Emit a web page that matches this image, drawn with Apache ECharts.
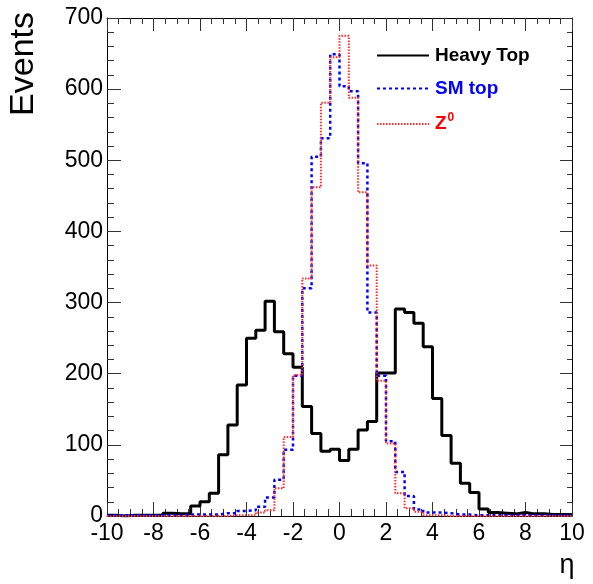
<!DOCTYPE html>
<html>
<head>
<meta charset="utf-8">
<script src="https://cdn.jsdelivr.net/npm/echarts@6/dist/echarts.min.js"></script>
<style>
  html, body { margin: 0; padding: 0; background: #fff; }
  #main { width: 593px; height: 584px; }
</style>
</head>
<body>
<div id="main"></div>
<script>
// lower edges of the 50 eta bins (width 0.4), last edge closes the histogram
const binLow = [-10, -9.6, -9.2, -8.8, -8.4, -8, -7.6, -7.2, -6.8, -6.4,
  -6, -5.6, -5.2, -4.8, -4.4, -4, -3.6, -3.2, -2.8, -2.4,
  -2, -1.6, -1.2, -0.8, -0.4, 0, 0.4, 0.8, 1.2, 1.6,
  2, 2.4, 2.8, 3.2, 3.6, 4, 4.4, 4.8, 5.2, 5.6,
  6, 6.4, 6.8, 7.2, 7.6, 8, 8.4, 8.8, 9.2, 9.6];
const binHigh = 10;

const heavyTop = [1, 0, 1, 1, 1, 1, 4, 3, 3, 14,
  20, 32, 86, 128, 184, 250, 261, 302, 259, 228,
  209, 154, 116, 91, 94, 78, 94, 121, 133, 201,
  201, 291, 286, 271, 238, 165, 113, 74, 46, 33,
  10, 5, 4, 3, 5, 3, 3, 2, 2, 2];

const smTop = [1, 1, 1, 1, 1, 1, 1, 1, 2, 2,
  2, 2, 4, 4, 7, 8, 13, 26, 51, 93,
  197, 320, 505, 531, 649, 604, 597, 496, 286, 197,
  105, 62, 28, 9, 5, 5, 4, 2, 2, 1,
  1, 1, 1, 1, 1, 1, 1, 1, 1, 1];

const zZero = [0, 0, 0, 0, 0, 0, 0, 0, 0, 0,
  0, 0, 0, 1, 1, 1, 5, 8, 39, 111,
  198, 334, 462, 581, 645, 675, 588, 455, 352, 190,
  102, 32, 11, 6, 1, 1, 0, 0, 0, 0,
  0, 0, 0, 0, 0, 0, 0, 0, 0, 0];

const xTicks = { min: -10, max: 10, interval: 2 };
const yTicks = { min: 0, max: 700, interval: 100 };

const FONT = '"Liberation Sans", Arial, Helvetica, sans-serif';

// histogram as step line: value i spans [binLow[i], next edge]
function toSteps(vals) {
  const pts = binLow.map((x, i) => [x, vals[i]]);
  pts.push([binHigh, vals[vals.length - 1]]);
  return pts;
}

function histSeries(name, vals, color, width, type, z) {
  return {
    name: name,
    type: 'line',
    step: 'end',
    symbol: 'none',
    z: z,
    xAxisIndex: 0,
    yAxisIndex: 0,
    data: toSteps(vals),
    lineStyle: { color: color, width: width, type: type, cap: 'butt' },
    itemStyle: { color: color }
  };
}

function axisCommon(showLabel) {
  return {
    axisLine: { show: true, onZero: false, lineStyle: { color: '#000', width: 1 } },
    axisTick: { show: true, inside: true, length: 14, lineStyle: { color: '#333', width: 1 } },
    minorTick: { show: true, length: 7, lineStyle: { color: '#333', width: 1 } },
    splitLine: { show: false },
    minorSplitLine: { show: false },
    axisLabel: { show: showLabel, color: '#000', fontSize: 23, fontFamily: FONT }
  };
}

const chart = echarts.init(document.getElementById('main'));

const xBottom = Object.assign({ type: 'value', position: 'bottom' }, xTicks, axisCommon(true));
xBottom.minorTick.splitNumber = 4;
xBottom.axisLabel.margin = 6;
const xTop = Object.assign({ type: 'value', position: 'top' }, xTicks, axisCommon(false));
xTop.minorTick.splitNumber = 4;
xTop.axisTick.length = 13;
xTop.minorTick.length = 6;

const yLeft = Object.assign({ type: 'value', position: 'left' }, yTicks, axisCommon(true));
yLeft.minorTick.splitNumber = 5;
yLeft.axisLabel.margin = 4;
const yRight = Object.assign({ type: 'value', position: 'right' }, yTicks, axisCommon(false));
yRight.minorTick.splitNumber = 5;
yRight.axisTick.length = 12;
yRight.minorTick.length = 5;

const option = {
  animation: false,
  backgroundColor: '#fff',
  textStyle: { fontFamily: FONT },
  grid: { left: 107, right: 21, top: 18, bottom: 68, containLabel: false },
  xAxis: [xBottom, xTop],
  yAxis: [yLeft, yRight],
  legend: {
    orient: 'vertical',
    left: 371,
    top: 41,
    itemWidth: 52,
    itemHeight: 14,
    itemGap: 14,
    itemStyle: { opacity: 0 },
    textStyle: {
      fontSize: 19,
      fontWeight: 'bold',
      fontFamily: FONT,
      padding: [0, 0, 0, 1],
      rich: {
        z: { fontSize: 19, fontWeight: 'bold', color: '#ff0000', fontFamily: FONT },
        s: { fontSize: 12, fontWeight: 'bold', color: '#ff0000', fontFamily: FONT, padding: [0, 0, 12, 1] }
      }
    },
    formatter: function (name) {
      return name === 'Z0' ? '{z|Z}{s|0}' : name;
    },
    data: [
      { name: 'Heavy Top', textStyle: { color: '#000' } },
      { name: 'SM top', textStyle: { color: '#0000ff' } },
      { name: 'Z0', textStyle: { color: '#ff0000' } }
    ]
  },
  graphic: [
    {
      type: 'text',
      x: 7,
      y: 12,
      rotation: Math.PI / 2,
      style: { text: 'Events', font: '34px ' + FONT, fill: '#000', align: 'right', verticalAlign: 'top' }
    },
    {
      type: 'text',
      x: 567,
      y: 566,
      style: { text: 'η', font: '27px ' + FONT, fill: '#000', align: 'center', verticalAlign: 'middle' }
    }
  ],
  series: [
    histSeries('Heavy Top', heavyTop, '#000000', 3, 'solid', 3),
    histSeries('SM top', smTop, '#0000ff', 2.5, [3, 3], 4),
    histSeries('Z0', zZero, '#ff2a2a', 2, [1.5, 1.5], 5)
  ]
};

chart.setOption(option);
</script>
</body>
</html>
